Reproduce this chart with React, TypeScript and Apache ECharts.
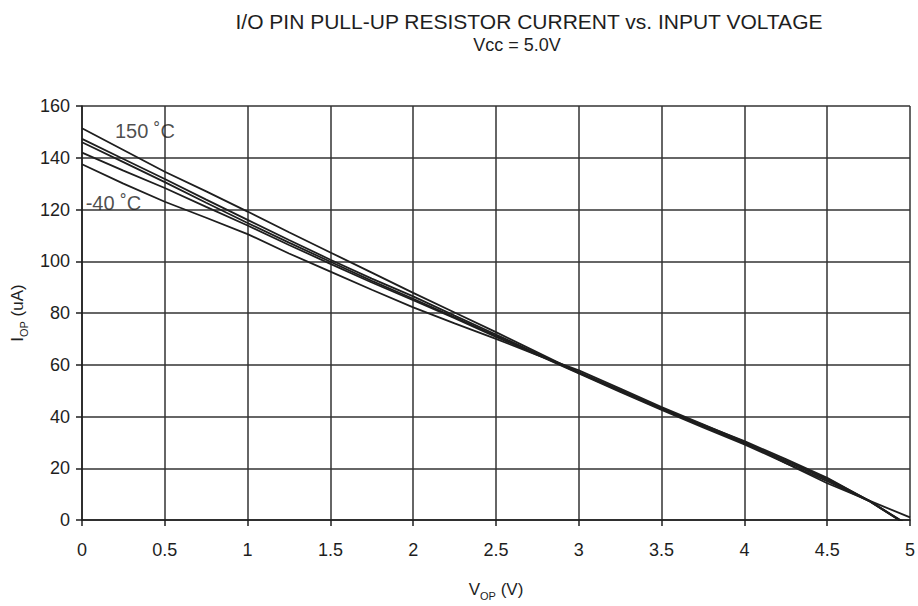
import React, { useEffect, useRef } from "react";
import * as echarts from "echarts";

const volts = [0, 0.25, 0.5, 0.75, 1, 1.25, 1.5, 1.75, 2, 2.25, 2.5, 2.75, 3, 3.25, 3.5, 3.75, 4, 4.25, 4.5, 4.75, 5];

const t150 = [151.4, 143, 134.6, 127, 119.2, 111.2, 103.4, 95.6, 87.8, 80.2, 72.6, 64.8, 57, 50, 43, 36.8, 30.5, 23.5, 16.3, 7.5, -2.7];
const t125 = [147.3, 139.5, 131.8, 123.8, 116, 108.2, 100.6, 93.3, 86.4, 79, 71.7, 64.2, 57.2, 50.2, 43.2, 36.5, 30, 23, 16, 7.6, -2.5];
const t85 = [146, 138.3, 130.6, 122.6, 114.8, 107.2, 99.8, 92.4, 85.5, 78.3, 71.2, 64, 56.8, 49.8, 42.8, 36.2, 29.6, 22.6, 15.6, 7.5, -2.3];
const t25 = [142, 135, 128.3, 121, 113.8, 106.3, 99, 91.8, 85, 78, 70.8, 63.8, 56.6, 49.5, 42.5, 35.8, 29.2, 22, 15, 7.4, -2.6];
const tm40 = [137.5, 130, 123, 116.8, 110.5, 103, 96, 89, 82.2, 76, 70, 63.7, 57.8, 50.8, 43.6, 37, 30.2, 22, 14.2, 7.6, 1.0];

const seriesNames = ["150 °C", "125 °C", "85 °C", "25 °C", "-40 °C"];
const seriesValues = [t150, t125, t85, t25, tm40];

const tempLabels = [
  { text: "150 ˚C", v: 0.38, i: 150.5 },
  { text: "-40 ˚C", v: 0.19, i: 122.5 },
];

const xTicks = { min: 0, max: 5, interval: 0.5 };
const yTicks = { min: 0, max: 160, interval: 20 };

const TITLE = "I/O PIN PULL-UP RESISTOR CURRENT vs. INPUT VOLTAGE";
const SUBTITLE = "Vcc = 5.0V";

const FONT = "'Liberation Sans', Arial, Helvetica, sans-serif";
const INK = "#1e1e1e";

export default function App() {
  const ref = useRef<HTMLDivElement>(null);
  useEffect(() => {
    if (!ref.current) return;
    const chart = echarts.init(ref.current, undefined, { renderer: "svg" });
    const series: any[] = seriesValues.map((vals, k) => ({
      type: "line",
      name: seriesNames[k],
      data: volts.map((v, j) => [v, vals[j]]),
      showSymbol: false,
      symbol: "none",
      lineStyle: { color: INK, width: 1.8 },
      z: 5,
    }));
    series.push({
      type: "scatter",
      name: "labels",
      data: tempLabels.map((l) => ({ value: [l.v, l.i], name: l.text })),
      symbolSize: 0,
      itemStyle: { color: "transparent" },
      label: {
        show: true,
        position: "inside",
        formatter: (p: any) => p.name,
        fontSize: 20,
        fontFamily: FONT,
        color: INK,
        textBorderWidth: 0,
        textBorderColor: "transparent",
      },
      z: 6,
    });
    const nameRich = {
      a: { fontSize: 17, fontFamily: FONT, color: INK, lineHeight: 22, verticalAlign: "bottom" },
      s: { fontSize: 11, fontFamily: FONT, color: INK, lineHeight: 22, verticalAlign: "bottom", padding: [0, 0, -3, 0] },
    };
    chart.setOption({
      animation: false,
      backgroundColor: "#fff",
      textStyle: { fontFamily: FONT },
      grid: { left: 82, right: 7, top: 106, bottom: 80, containLabel: false },
      graphic: [
        {
          type: "text",
          x: 529,
          y: 21,
          style: { text: TITLE, align: "center", verticalAlign: "middle", fontSize: 21, fontFamily: FONT, fill: INK },
        },
        {
          type: "text",
          x: 517,
          y: 45,
          style: { text: SUBTITLE, align: "center", verticalAlign: "middle", fontSize: 18, fontFamily: FONT, fill: INK },
        },
      ],
      xAxis: {
        type: "value",
        min: xTicks.min,
        max: xTicks.max,
        interval: xTicks.interval,
        name: "{a|V}{s|OP}{a| (V)}",
        nameLocation: "middle",
        nameGap: 56,
        nameTextStyle: { rich: nameRich },
        axisLine: { show: true, lineStyle: { color: INK, width: 1.5 } },
        axisTick: { show: true, inside: false, length: 6, lineStyle: { color: INK, width: 1.5 } },
        axisLabel: { fontSize: 18, fontFamily: FONT, color: INK, margin: 21 },
        splitLine: { show: true, lineStyle: { color: "#333", width: 1.5 } },
      },
      yAxis: {
        type: "value",
        min: yTicks.min,
        max: yTicks.max,
        interval: yTicks.interval,
        name: "{a|I}{s|OP}{a| (uA)}",
        nameLocation: "middle",
        nameRotate: 90,
        nameGap: 54,
        nameTextStyle: { rich: nameRich },
        axisLine: { show: true, lineStyle: { color: INK, width: 1.5 } },
        axisTick: { show: true, inside: false, length: 6, lineStyle: { color: INK, width: 1.5 } },
        axisLabel: { fontSize: 18, fontFamily: FONT, color: INK, margin: 12 },
        splitLine: { show: true, lineStyle: { color: "#333", width: 1.5 } },
      },
      series,
    });
    return () => chart.dispose();
  }, []);
  return <div ref={ref} style={{ position: "fixed", left: 0, top: 0, width: 918, height: 606, background: "#fff" }} />;
}
